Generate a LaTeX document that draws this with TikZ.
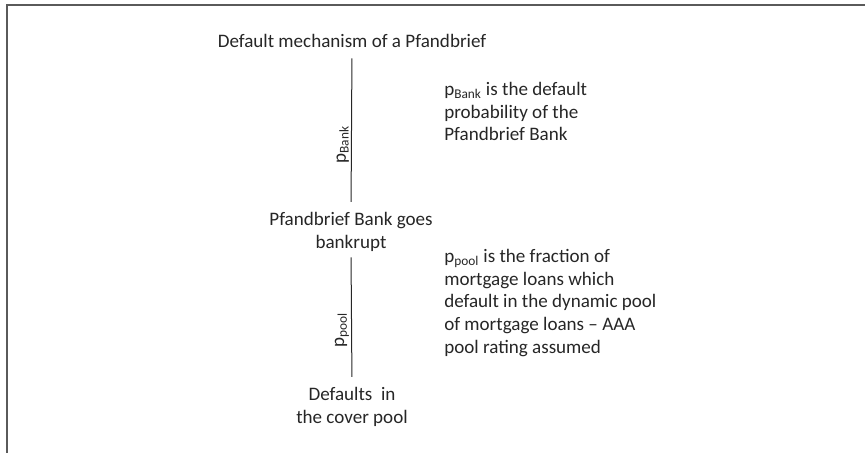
\documentclass[tikz,border=0pt]{standalone}
\usepackage{fontspec}
\setmainfont{Carlito}
\definecolor{txt}{HTML}{262626}
\definecolor{framec}{HTML}{5A5A5A}
\begin{document}
\begin{tikzpicture}[x=0.75pt,y=-0.75pt,
  every node/.style={font=\fontsize{14.3}{17}\selectfont, text=txt, inner sep=0pt},
  conn/.style={draw=txt, line width=0.75pt},
  framestyle/.style={draw=framec, line width=1.5pt},
  lbl/.style={rotate=90, anchor=south, inner sep=1.5pt}]
\useasboundingbox (0,0) rectangle (865,453);
% frame (top and left edges visible)
\draw[framestyle] (7,460) -- (7,5) -- (870,5);
% nodes (anchor=base is the baseline of the last line)
\node[anchor=base] (title) at (352,48) {Default mechanism of a Pfandbrief};
\node[anchor=base, align=center] (bank) at (351,248) {Pfandbrief Bank goes\\bankrupt};
\node[anchor=base, align=center] (pool) at (352,423) {Defaults\ \ in\\the cover pool};
\node[anchor=base west, align=left] (descbank) at (444,141)
  {p\textsubscript{Bank} is the default\\probability of the\\Pfandbrief Bank};
\node[anchor=base west, align=left] (descpool) at (444,353)
  {p\textsubscript{pool} is the fraction of\\mortgage loans which\\default in the dynamic pool\\of mortgage loans -- AAA\\pool rating assumed};
% connectors
\draw[conn, shorten <=7.5pt, shorten >=7.5pt] (title.south) -- (bank.north)
  node[lbl, pos=0.59] (lblbank) {p\textsubscript{Bank}};
\draw[conn, shorten <=4.5pt, shorten >=7.5pt] (bank.south) -- (pool.north)
  node[lbl, pos=0.58] (lblpool) {p\textsubscript{pool}};
\end{tikzpicture}
\end{document}
